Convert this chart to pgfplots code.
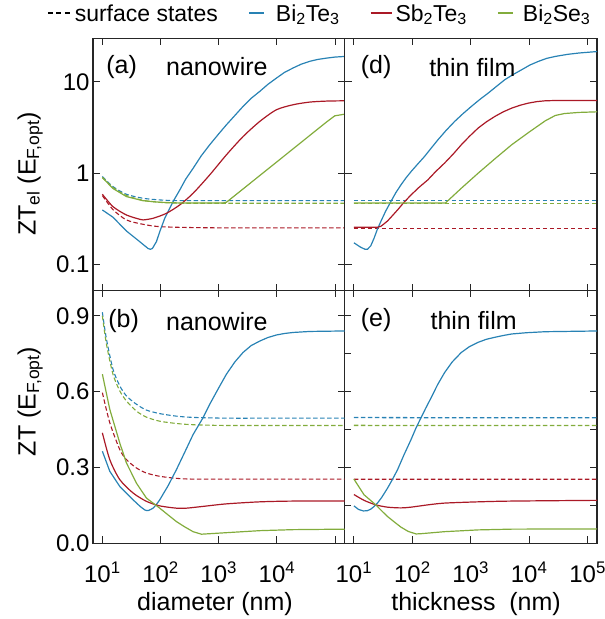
\documentclass[border=0pt]{standalone}
\usepackage{pgfplots}
\pgfplotsset{compat=1.18}
\usepackage{fontspec}
\setmainfont{Liberation Sans}
\definecolor{cB}{RGB}{40,130,180}
\definecolor{cR}{RGB}{170,25,38}
\definecolor{cG}{RGB}{130,172,60}
\pgfplotsset{
 every axis/.append style={scale only axis,
   tick pos=both, tick align=inside, major tick length=7pt,
   axis line style={line width=1.1pt, black!85},
   tick style={line width=1.1pt, black!85},
   tick label style={font=\fontsize{24}{28}\selectfont},
   xticklabel style={yshift=-15pt},
   label style={font=\fontsize{25}{30}\selectfont}},
}
\tikzset{
 myss/.style={dash pattern=on 4.5pt off 2.5pt, line width=1.1pt},
 mysl/.style={line width=1.2pt},
 sm/.style={smooth, tension=0.45},
 plab/.style={anchor=west, inner sep=0pt, font=\fontsize{25}{30}\selectfont},
}
\newcommand{\lgline}[2]{\textcolor{#1}{\rule[7.5pt]{#2}{1.2pt}}}
\begin{document}
\begin{tikzpicture}
\useasboundingbox (0,0) rectangle (605pt,619pt);
% ---------------- (a)
\begin{axis}[xmode=log, ymode=log, xmin=6.9, xmax=1.45e5, xminorticks=false, yminorticks=false,
  xtick={10,100,1000,10000,100000},
  at={(93pt,328.5pt)}, anchor=south west, width=251.5pt, height=252.2pt,
  ymin=0.052, ymax=30, ytick={0.1,1,10}, yticklabels={0.1,1,10}, xticklabels={},
  ylabel={ZT\textsubscript{el} (E\textsubscript{F,opt})},
  ylabel style={at={(axis description cs:-0.25,0.462)}, anchor=center},
  legend image code/.code={},
  legend style={draw=none, fill=none, legend columns=4, at={(axis description cs:0.899,1.098)}, anchor=center,
    font=\fontsize{23}{27}\selectfont, nodes={inner sep=0pt},
    /tikz/every even column/.append style={column sep=31pt}}]
\addlegendimage{black}
\addlegendentry{\lgline{black}{5pt}\hspace{3.5pt}\lgline{black}{5pt}\hspace{3.5pt}\lgline{black}{5pt}\hspace{5pt}surface states}
\addlegendimage{cB}
\addlegendentry{\lgline{cB}{15pt}\hspace{12pt}Bi\textsubscript{2}Te\textsubscript{3}}
\addlegendimage{cR}
\addlegendentry{\lgline{cR}{21pt}\hspace{4pt}Sb\textsubscript{2}Te\textsubscript{3}}
\addlegendimage{cG}
\addlegendentry{\lgline{cG}{15pt}\hspace{10pt}Bi\textsubscript{2}Se\textsubscript{3}}
\addplot[color=cB, myss, sm, forget plot] coordinates {(10,0.919) (15.2,0.714) (25.9,0.588) (50,0.532) (96.8,0.510) (200,0.501) (1000,0.501) (150000,0.501)};
\addplot[color=cG, myss, sm, forget plot] coordinates {(10,0.90) (15.2,0.70) (25.9,0.57) (50,0.505) (96.8,0.48) (200,0.47) (1000,0.469) (150000,0.469)};
\addplot[color=cR, myss, sm, forget plot] coordinates {(10,0.569) (15.2,0.40) (25.9,0.308) (50,0.276) (96.8,0.260) (362,0.254) (2000,0.252) (150000,0.252)};
\addplot[color=cB, mysl, forget plot] coordinates {(10,0.396) (15.2,0.330) (25.9,0.233) (43.9,0.178) (60.9,0.150) (66.8,0.147) (72.4,0.150) (84.8,0.178) (96.8,0.229) (118,0.321) (140,0.40) (164,0.489) (214,0.656) (270,0.86) (362,1.13) (500,1.55) (700,2.05) (1000,2.7) (1355,3.39) (1900,4.3) (2620,5.39) (3600,6.6) (5070,7.87) (7000,9.4) (9800,11.0) (13500,12.7) (18970,14.2) (26000,15.6) (36650,16.8) (50000,17.6) (70960,18.2) (100000,18.7) (148600,19.0)};
\addplot[color=cR, mysl, sm, forget plot] coordinates {(10,0.588) (15.2,0.431) (25.9,0.349) (43.9,0.313) (50,0.308) (74.3,0.321) (126,0.364) (214,0.450) (362,0.603) (700,0.959) (1355,1.59) (2620,2.52) (5070,3.69) (9800,4.95) (18970,5.62) (36650,6.01) (70960,6.16) (148600,6.21)};
\addplot[color=cG, mysl, forget plot] coordinates {(10,0.896) (15.2,0.68) (25.9,0.555) (50,0.50) (96.8,0.481) (200,0.473) (1200,0.473) (1355,0.481) (2620,0.673) (5070,0.943) (9800,1.32) (18970,1.85) (36650,2.59) (70960,3.63) (98600,4.25) (148600,4.44)};
\node[plab] at (rel axis cs:0.052,0.886) {(a)};
\node[plab] at (rel axis cs:0.29,0.886) {nanowire};
\end{axis}
% ---------------- (d)
\begin{axis}[xmode=log, ymode=log, xmin=6.9, xmax=1.45e5, xminorticks=false, yminorticks=false,
  xtick={10,100,1000,10000,100000},
  at={(344.5pt,328.5pt)}, anchor=south west, width=252.5pt, height=252.2pt,
  ymin=0.052, ymax=30, ytick={0.1,1,10}, yticklabels={}, xticklabels={}]
\addplot[color=cB, myss] coordinates {(10,0.501) (160000,0.501)};
\addplot[color=cG, myss] coordinates {(10,0.469) (160000,0.469)};
\addplot[color=cR, myss] coordinates {(10,0.251) (160000,0.251)};
\addplot[color=cB, mysl] coordinates {(10,0.173) (13,0.155) (15.5,0.147) (17.0,0.147) (19.4,0.160) (22.1,0.194) (25,0.24) (28.8,0.295) (35,0.385) (42.9,0.489) (52,0.61) (63.8,0.745) (78,0.89) (94.9,1.04) (125,1.27) (161,1.52) (210,1.88) (274,2.32) (380,2.95) (530,3.69) (740,4.5) (1026,5.39) (1420,6.4) (1990,7.54) (2800,9.0) (3857,10.6) (5400,12.1) (7475,13.6) (10300,15.3) (14500,16.8) (20000,18.1) (28070,19.0) (45000,20.0) (70960,20.7) (161000,21.6)};
\addplot[color=cR, mysl] coordinates {(10,0.256) (25.3,0.256) (28.8,0.262) (33,0.28) (37.6,0.300) (45,0.34) (55.8,0.396) (72,0.48) (94.9,0.578) (130,0.70) (184,0.845) (250,1.04) (356,1.29) (500,1.62) (690,2.05) (960,2.55) (1337,3.12) (1850,3.65) (2596,4.19) (3600,4.7) (5025,5.16) (7000,5.55) (9750,5.86) (13500,6.08) (18880,6.21) (30000,6.26) (161000,6.27)};
\addplot[color=cG, mysl] coordinates {(10,0.473) (370,0.473) (690,0.685) (1337,1.0) (2596,1.44) (5025,2.05) (9750,2.79) (18880,3.75) (28070,4.29) (40000,4.5) (70960,4.63) (161000,4.71)};
\node[plab] at (rel axis cs:0.064,0.886) {(d)};
\node[plab] at (rel axis cs:0.335,0.886) {thin film};
\end{axis}
% ---------------- (e)
\begin{axis}[xmode=log, xmin=6.9, xmax=1.45e5, xminorticks=false,
  xtick={10,100,1000,10000,100000},
  at={(344.5pt,75.7pt)}, anchor=south west, width=252.5pt, height=252.8pt,
  ymin=0, ymax=1.0, ytick={0,0.15,0.3,0.45,0.6,0.75,0.9}, yticklabels={},
  xticklabels={10\textsuperscript{1},10\textsuperscript{2},10\textsuperscript{3},10\textsuperscript{4},10\textsuperscript{5}},
  xlabel={thickness\ \ (nm)},
  xlabel style={at={(axis description cs:0.521,-0.242)}, anchor=center}]
\addplot[draw=cB, color=cB, myss, line width=1.3pt, sm] coordinates {(10,0.4975) (100,0.497) (1000,0.497) (10000,0.497) (150000,0.497)};
\addplot[draw=cG, color=cG, myss, line width=1.3pt, sm] coordinates {(10,0.4665) (100,0.466) (1000,0.466) (10000,0.466) (150000,0.466)};
\addplot[draw=cR, color=cR, myss, line width=1.3pt, sm] coordinates {(10,0.2535) (100,0.253) (1000,0.253) (10000,0.253) (150000,0.253)};
\addplot[color=cB, mysl] coordinates {(10,0.148) (12,0.134) (14.5,0.128) (17,0.129) (19.4,0.135) (22,0.145) (25.3,0.159) (30,0.182) (37.6,0.218) (45,0.25) (55.8,0.291) (72,0.35) (94.9,0.41) (115,0.455) (141,0.497) (170,0.535) (210,0.576) (270,0.627) (356,0.675) (480,0.717) (690,0.755) (950,0.778) (1337,0.795) (1850,0.807) (2596,0.815) (3600,0.822) (5025,0.828) (9000,0.833) (18880,0.837) (161000,0.84)};
\addplot[color=cR, mysl, sm] coordinates {(10,0.193) (14.9,0.17) (23.7,0.152) (37.6,0.143) (63.8,0.14) (94.9,0.143) (184,0.152) (356,0.159) (1337,0.164) (5025,0.167) (161000,0.17)};
\addplot[color=cG, mysl] coordinates {(10,0.254) (14.9,0.192) (23.7,0.152) (30,0.128) (37.6,0.106) (50,0.083) (63.8,0.064) (85,0.047) (116,0.037) (141,0.038) (356,0.046) (1337,0.053) (5025,0.056) (161000,0.057)};
\node[plab] at (rel axis cs:0.064,0.883) {(e)};
\node[plab] at (rel axis cs:0.34,0.883) {thin film};
\end{axis}
% ---------------- (b)
\begin{axis}[xmode=log, xmin=6.9, xmax=1.45e5, xminorticks=false,
  xtick={10,100,1000,10000,100000},
  at={(93pt,75.7pt)}, anchor=south west, width=251.5pt, height=252.8pt,
  ymin=0, ymax=1.0, ytick={0,0.3,0.6,0.9}, yticklabels={0.0,0.3,0.6,0.9},
  xticklabels={10\textsuperscript{1},10\textsuperscript{2},10\textsuperscript{3},10\textsuperscript{4},{}},
  xlabel={diameter (nm)},
  xlabel style={at={(axis description cs:0.485,-0.242)}, anchor=center},
  ylabel={ZT (E\textsubscript{F,opt})},
  ylabel style={at={(axis description cs:-0.25,0.561)}, anchor=center}]
\addplot[color=cB, myss, sm] coordinates {(10,0.914) (11.7,0.81) (15.2,0.689) (19.9,0.623) (25.9,0.583) (38.5,0.55) (57.1,0.527) (96.8,0.513) (187,0.503) (362,0.498) (1355,0.495) (10000,0.495) (150000,0.495)};
\addplot[color=cG, myss, sm] coordinates {(10,0.90) (11.7,0.79) (15.2,0.669) (19.9,0.603) (25.9,0.563) (38.5,0.523) (57.1,0.499) (96.8,0.483) (187,0.474) (362,0.469) (1355,0.466) (10000,0.466) (150000,0.466)};
\addplot[color=cR, myss, sm] coordinates {(10,0.596) (13.4,0.477) (19.9,0.371) (25.9,0.331) (38.5,0.298) (57.1,0.278) (96.8,0.265) (187,0.257) (362,0.254) (3000,0.254) (150000,0.254)};
\addplot[color=cB, mysl] coordinates {(10,0.364) (13.4,0.285) (19.9,0.225) (33.7,0.172) (45,0.145) (53.5,0.132) (57.1,0.130) (62,0.130) (68,0.134) (74.3,0.139) (84,0.152) (96.8,0.172) (135,0.228) (187,0.291) (260,0.36) (362,0.43) (538,0.497) (700,0.55) (1000,0.615) (1355,0.669) (1900,0.718) (2620,0.755) (3600,0.782) (5070,0.80) (7000,0.814) (9800,0.824) (13500,0.830) (18970,0.834) (36650,0.838) (150000,0.84)};
\addplot[color=cR, mysl, sm] coordinates {(10,0.437) (13.4,0.331) (19.9,0.252) (33.7,0.199) (57.1,0.166) (96.8,0.148) (187,0.139) (278,0.139) (538,0.146) (1355,0.156) (5070,0.164) (18970,0.167) (150000,0.167)};
\addplot[color=cG, mysl] coordinates {(10,0.669) (13.4,0.53) (19.9,0.397) (25.9,0.318) (38.5,0.238) (57.1,0.179) (96.8,0.139) (135,0.112) (187,0.086) (260,0.065) (362,0.046) (504,0.036) (1355,0.042) (5070,0.05) (18970,0.054) (150000,0.056)};
\node[plab] at (rel axis cs:0.06,0.879) {(b)};
\node[plab] at (rel axis cs:0.29,0.879) {nanowire};
\end{axis}
\end{tikzpicture}
\end{document}
